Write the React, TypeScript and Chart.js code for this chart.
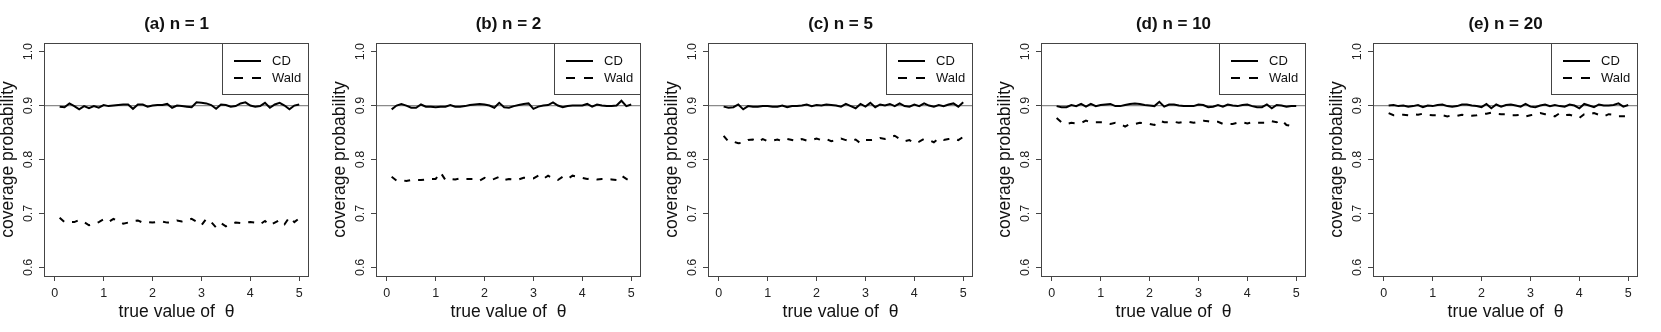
import React, { useEffect, useRef } from "react";
import { Chart, registerables } from "chart.js";

Chart.register(...registerables);

// ---------- data ----------
const theta = [
  0.1, 0.2, 0.3, 0.4, 0.5, 0.6, 0.7, 0.8, 0.9, 1.0,
  1.1, 1.2, 1.3, 1.4, 1.5, 1.6, 1.7, 1.8, 1.9, 2.0,
  2.1, 2.2, 2.3, 2.4, 2.5, 2.6, 2.7, 2.8, 2.9, 3.0,
  3.1, 3.2, 3.3, 3.4, 3.5, 3.6, 3.7, 3.8, 3.9, 4.0,
  4.1, 4.2, 4.3, 4.4, 4.5, 4.6, 4.7, 4.8, 4.9, 5.0,
];

const panelTitles = ["(a) n = 1", "(b) n = 2", "(c) n = 5", "(d) n = 10", "(e) n = 20"];
const seriesLabels = ["CD", "Wald"];

const cdN1 = [
  0.898, 0.897, 0.904, 0.899, 0.893, 0.899, 0.895, 0.899, 0.896, 0.901,
  0.899, 0.900, 0.901, 0.902, 0.902, 0.894, 0.902, 0.902, 0.898, 0.900,
  0.901, 0.901, 0.903, 0.896, 0.900, 0.899, 0.898, 0.897, 0.906, 0.905,
  0.904, 0.901, 0.894, 0.902, 0.901, 0.898, 0.899, 0.904, 0.906, 0.900,
  0.898, 0.899, 0.905, 0.896, 0.902, 0.905, 0.900, 0.893, 0.900, 0.902,
];
const waldN1 = [
  0.692, 0.684, 0.684, 0.684, 0.688, 0.684, 0.678, 0.680, 0.684, 0.689,
  0.684, 0.690, 0.686, 0.681, 0.683, 0.686, 0.687, 0.683, 0.684, 0.683,
  0.684, 0.685, 0.683, 0.684, 0.687, 0.685, 0.687, 0.690, 0.685, 0.678,
  0.690, 0.684, 0.674, 0.682, 0.676, 0.680, 0.683, 0.682, 0.683, 0.684,
  0.683, 0.680, 0.686, 0.678, 0.683, 0.688, 0.680, 0.693, 0.684, 0.691,
];

const cdN2 = [
  0.893, 0.900, 0.903, 0.900, 0.896, 0.896, 0.902, 0.898, 0.898, 0.897,
  0.898, 0.898, 0.901, 0.898, 0.898, 0.899, 0.901, 0.902, 0.903, 0.902,
  0.900, 0.896, 0.905, 0.897, 0.896, 0.899, 0.901, 0.903, 0.904, 0.894,
  0.898, 0.900, 0.901, 0.906, 0.900, 0.897, 0.899, 0.900, 0.900, 0.900,
  0.903, 0.898, 0.902, 0.900, 0.899, 0.899, 0.900, 0.909, 0.899, 0.902,
];
const waldN2 = [
  0.768, 0.761, 0.762, 0.760, 0.762, 0.762, 0.762, 0.763, 0.764, 0.764,
  0.776, 0.762, 0.764, 0.763, 0.765, 0.764, 0.764, 0.764, 0.761, 0.766,
  0.762, 0.764, 0.768, 0.762, 0.764, 0.763, 0.763, 0.766, 0.766, 0.765,
  0.770, 0.764, 0.770, 0.765, 0.762, 0.768, 0.764, 0.770, 0.768, 0.766,
  0.764, 0.765, 0.763, 0.764, 0.764, 0.763, 0.762, 0.770, 0.764, 0.759,
];

const cdN5 = [
  0.898, 0.896, 0.897, 0.902, 0.893, 0.899, 0.898, 0.898, 0.899, 0.899,
  0.898, 0.898, 0.900, 0.897, 0.899, 0.899, 0.900, 0.902, 0.899, 0.901,
  0.900, 0.902, 0.901, 0.900, 0.898, 0.903, 0.899, 0.895, 0.903, 0.898,
  0.905, 0.897, 0.902, 0.900, 0.903, 0.899, 0.904, 0.899, 0.898, 0.902,
  0.899, 0.904, 0.900, 0.898, 0.901, 0.899, 0.902, 0.904, 0.898, 0.906,
];
const waldN5 = [
  0.844, 0.833, 0.833, 0.830, 0.831, 0.836, 0.837, 0.833, 0.838, 0.834,
  0.835, 0.837, 0.834, 0.838, 0.836, 0.834, 0.838, 0.835, 0.836, 0.839,
  0.836, 0.838, 0.834, 0.836, 0.839, 0.836, 0.834, 0.837, 0.830, 0.836,
  0.836, 0.837, 0.840, 0.838, 0.841, 0.844, 0.838, 0.834, 0.836, 0.830,
  0.833, 0.838, 0.836, 0.832, 0.839, 0.836, 0.838, 0.839, 0.836, 0.842,
];

const cdN10 = [
  0.899, 0.897, 0.897, 0.901, 0.899, 0.903, 0.898, 0.903, 0.899, 0.901,
  0.902, 0.903, 0.899, 0.899, 0.901, 0.903, 0.904, 0.903, 0.901, 0.900,
  0.899, 0.907, 0.898, 0.902, 0.902, 0.900, 0.899, 0.899, 0.899, 0.902,
  0.901, 0.897, 0.898, 0.901, 0.898, 0.902, 0.900, 0.899, 0.901, 0.902,
  0.899, 0.897, 0.897, 0.902, 0.895, 0.901, 0.900, 0.898, 0.899, 0.899,
];
const waldN10 = [
  0.877, 0.869, 0.866, 0.868, 0.867, 0.868, 0.872, 0.869, 0.869, 0.869,
  0.869, 0.866, 0.868, 0.866, 0.861, 0.866, 0.866, 0.868, 0.867, 0.866,
  0.864, 0.872, 0.869, 0.869, 0.870, 0.868, 0.870, 0.870, 0.868, 0.870,
  0.872, 0.871, 0.869, 0.870, 0.866, 0.866, 0.866, 0.868, 0.869, 0.867,
  0.869, 0.868, 0.868, 0.868, 0.871, 0.869, 0.873, 0.864, 0.862, 0.865,
];

const cdN20 = [
  0.900, 0.901, 0.899, 0.900, 0.898, 0.899, 0.901, 0.897, 0.900, 0.899,
  0.901, 0.902, 0.899, 0.898, 0.899, 0.902, 0.902, 0.900, 0.899, 0.897,
  0.903, 0.895, 0.902, 0.898, 0.901, 0.902, 0.900, 0.898, 0.903, 0.898,
  0.897, 0.900, 0.902, 0.899, 0.901, 0.899, 0.898, 0.902, 0.900, 0.895,
  0.903, 0.900, 0.897, 0.902, 0.900, 0.900, 0.901, 0.904, 0.898, 0.901,
];
const waldN20 = [
  0.886, 0.882, 0.882, 0.883, 0.882, 0.884, 0.883, 0.885, 0.883, 0.882,
  0.882, 0.882, 0.880, 0.882, 0.881, 0.883, 0.881, 0.881, 0.882, 0.884,
  0.885, 0.887, 0.885, 0.884, 0.884, 0.882, 0.882, 0.883, 0.880, 0.882,
  0.884, 0.886, 0.884, 0.883, 0.880, 0.886, 0.882, 0.883, 0.880, 0.877,
  0.884, 0.884, 0.886, 0.883, 0.880, 0.884, 0.883, 0.880, 0.880, 0.880,
];

const cdSeries = [cdN1, cdN2, cdN5, cdN10, cdN20];
const waldSeries = [waldN1, waldN2, waldN5, waldN10, waldN20];

const xTicks = [0, 1, 2, 3, 4, 5];
const yTicks = [0.6, 0.7, 0.8, 0.9, 1.0];
const refLine = 0.9;
const xAxisTitle = "true value of  θ";
const yAxisTitle = "coverage probability";

// ---------- styling ----------
const FONT = "'Liberation Sans', Arial, Helvetica, sans-serif";
const PANEL_W = 1661 / 5;
const PANEL_H = 332;
const LEGEND_DASH = [9, 9];

const decorPlugin = {
  id: "decor",
  beforeDatasetsDraw(chart: any) {
    const { ctx, chartArea } = chart;
    const y = chart.scales.y.getPixelForValue(refLine);
    ctx.save();
    ctx.strokeStyle = "#8a8a8a";
    ctx.lineWidth = 1.3;
    ctx.beginPath();
    ctx.moveTo(chartArea.left, y);
    ctx.lineTo(chartArea.right, y);
    ctx.stroke();
    ctx.restore();
  },
  afterDraw(chart: any, _args: any, opts: any) {
    const { ctx, chartArea } = chart;
    const { left, right, top, bottom } = chartArea;
    ctx.save();
    // plot box
    ctx.strokeStyle = "#444";
    ctx.lineWidth = 1;
    ctx.strokeRect(left + 0.5, top + 0.5, right - left - 1, bottom - top);

    // panel title
    ctx.fillStyle = "#111";
    ctx.font = `bold 17px ${FONT}`;
    ctx.textAlign = "center";
    ctx.textBaseline = "middle";
    ctx.fillText(opts.title, (left + right) / 2, 24);

    // legend (topright)
    const lw = 87;
    const lh = 51;
    const lx = right - lw;
    const ly = top;
    ctx.fillStyle = "#fff";
    ctx.fillRect(lx, ly, lw, lh);
    ctx.strokeStyle = "#444";
    ctx.strokeRect(lx + 0.5, ly + 0.5, lw - 1, lh);
    chart.data.datasets.forEach((ds: any, i: number) => {
      const yy = ly + 18 + i * 17;
      ctx.strokeStyle = ds.borderColor;
      ctx.lineWidth = ds.borderWidth;
      ctx.setLineDash(ds.borderDash ? LEGEND_DASH : []);
      ctx.beginPath();
      ctx.moveTo(lx + 12, yy);
      ctx.lineTo(lx + 39, yy);
      ctx.stroke();
      ctx.setLineDash([]);
      ctx.fillStyle = "#111";
      ctx.font = `13px ${FONT}`;
      ctx.textAlign = "left";
      ctx.textBaseline = "middle";
      ctx.fillText(ds.label, lx + 50, yy);
    });
    ctx.restore();
  },
};

function Panel({ idx }: { idx: number }) {
  const ref = useRef<HTMLCanvasElement>(null);
  useEffect(() => {
    const cd = cdSeries[idx];
    const wald = waldSeries[idx];
    const chart = new Chart(ref.current as HTMLCanvasElement, {
      type: "line",
      data: {
        datasets: [
          {
            label: seriesLabels[0],
            data: theta.map((x, i) => ({ x, y: cd[i] })),
            borderColor: "#000",
            borderWidth: 2,
            pointRadius: 0,
            fill: false,
            tension: 0,
          },
          {
            label: seriesLabels[1],
            data: theta.map((x, i) => ({ x, y: wald[i] })),
            borderColor: "#000",
            borderWidth: 2,
            borderDash: [6, 8],
            pointRadius: 0,
            fill: false,
            tension: 0,
          },
        ],
      },
      options: {
        responsive: false,
        animation: false,
        events: [],
        layout: { padding: { top: 43, right: 23, left: 0, bottom: 0 } },
        plugins: {
          legend: { display: false },
          tooltip: { enabled: false },
          decor: { title: panelTitles[idx] },
        } as any,
        scales: {
          x: {
            type: "linear",
            min: -0.22,
            max: 5.2,
            afterBuildTicks: (s: any) => {
              s.ticks = xTicks.map((v) => ({ value: v }));
            },
            afterFit: (s: any) => {
              s.height = 56;
            },
            grid: { display: true, drawOnChartArea: false, drawTicks: true, tickLength: 5, color: "#444" },
            border: { display: false },
            ticks: {
              autoSkip: false,
              maxRotation: 0,
              padding: 5,
              color: "#222",
              font: { family: FONT, size: 12.5 },
              callback: (v: any) => String(v),
            },
            title: {
              display: true,
              text: xAxisTitle,
              color: "#111",
              font: { family: FONT, size: 17.5 },
              padding: { top: 0, bottom: 9 },
            },
          },
          y: {
            type: "linear",
            min: 0.584,
            max: 1.016,
            afterBuildTicks: (s: any) => {
              s.ticks = yTicks.map((v) => ({ value: v }));
            },
            afterFit: (s: any) => {
              s.width = 44;
            },
            grid: { display: true, drawOnChartArea: false, drawTicks: true, tickLength: 5, color: "#444" },
            border: { display: false },
            ticks: {
              minRotation: 90,
              maxRotation: 90,
              crossAlign: "center",
              padding: 2,
              color: "#222",
              font: { family: FONT, size: 12.5 },
              callback: (v: any) => Number(v).toFixed(1),
            },
            title: {
              display: true,
              text: yAxisTitle,
              color: "#111",
              font: { family: FONT, size: 17.5 },
              padding: { top: -2, bottom: 0 },
            },
          },
        },
      } as any,
      plugins: [decorPlugin as any],
    });
    return () => chart.destroy();
  }, [idx]);
  return (
    <canvas
      ref={ref}
      width={Math.round(PANEL_W)}
      height={PANEL_H}
      style={{ display: "block", width: Math.round(PANEL_W), height: PANEL_H }}
    />
  );
}

export default function App() {
  return (
    <div style={{ position: "fixed", left: 0, top: 0, width: 1661, height: 332, background: "#fff" }}>
      {panelTitles.map((_, i) => (
        <div key={i} style={{ position: "absolute", left: Math.round(i * PANEL_W), top: 0 }}>
          <Panel idx={i} />
        </div>
      ))}
    </div>
  );
}
